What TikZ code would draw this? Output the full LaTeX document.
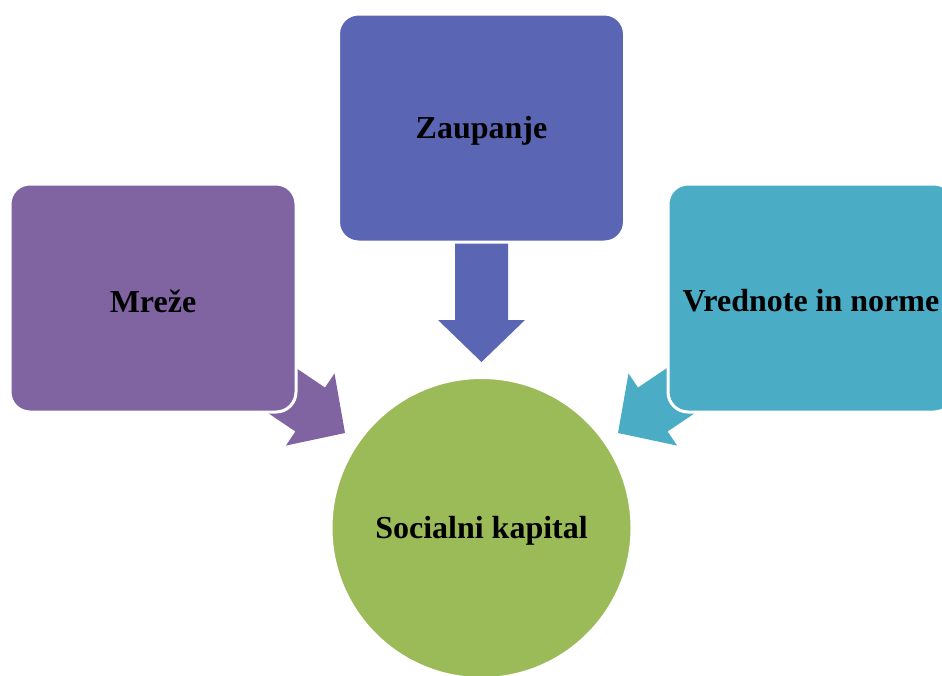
\documentclass[tikz,border=0pt]{standalone}
\usepackage{fontspec}
\setmainfont{Liberation Serif}
\definecolor{cpurple}{HTML}{8064A2}
\definecolor{cblue}{HTML}{5A66B3}
\definecolor{cteal}{HTML}{4BACC6}
\definecolor{cgreen}{HTML}{9BBB59}
\tikzset{
  box/.style={draw=white, line width=3pt, rounded corners=20pt, minimum width=286pt, minimum height=228pt, inner sep=0pt},
  hub/.style={circle, draw=white, line width=3pt, minimum size=301pt, inner sep=0pt},
  lbl/.style={font=\fontsize{32}{36}\selectfont\bfseries, text=black},
  blockarrow/.pic={\fill (0,0) -- (-42,43.5) -- (-42,26.5) -- (-160,26.5) -- (-160,-26.5) -- (-42,-26.5) -- (-42,-43.5) -- cycle;}
}
\begin{document}
\begin{tikzpicture}[x=1pt,y=-1pt]
\useasboundingbox (0,0) rectangle (942,675);
% arrows (drawn beneath the boxes)
\coordinate (tipL) at (345,433);
\coordinate (tipT) at (481.5,362);
\coordinate (tipR) at (618,433);
\pic[fill=cpurple, shift={(tipL)}, rotate=-34] {blockarrow};
\pic[fill=cblue, shift={(tipT)}, rotate=-90] {blockarrow};
\pic[fill=cteal, shift={(tipR)}, rotate=214] {blockarrow};
% boxes
\node[box, fill=cpurple] (mreze) at (153,298) {};
\node[box, fill=cblue] (zaup) at (481.5,128) {};
\node[box, fill=cteal] (vred) at (811,298) {};
% hub
\node[hub, fill=cgreen] (sk) at (481.5,528) {};
% labels
\node[lbl] at ([yshift=-3pt]mreze.center) {Mreže};
\node[lbl] at ([yshift=-3pt]zaup.center) {Zaupanje};
\node[lbl] at ([yshift=-3pt]vred.center) {Vrednote in norme};
\node[lbl] at ([yshift=-3pt]sk.center) {Socialni kapital};
\end{tikzpicture}
\end{document}
